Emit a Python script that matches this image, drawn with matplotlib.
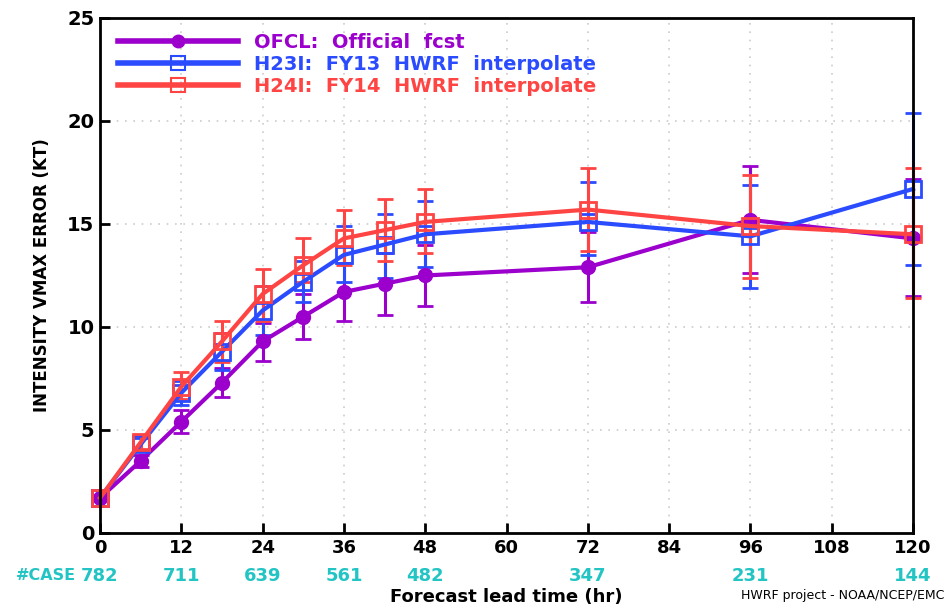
import matplotlib
matplotlib.use("Agg")
import matplotlib.pyplot as plt
import matplotlib.transforms as mtransforms
from matplotlib.lines import Line2D

# forecast lead times (hr)
lead = [0, 6, 12, 18, 24, 30, 36, 42, 48, 72, 96, 120]

# mean intensity errors (kt)
ofcl = [1.7, 3.5, 5.4, 7.3, 9.3, 10.5, 11.7, 12.1, 12.5, 12.9, 15.2, 14.3]
h23i = [1.7, 4.3, 6.8, 8.8, 10.8, 12.2, 13.5, 14.0, 14.5, 15.1, 14.4, 16.7]
h24i = [1.7, 4.4, 7.1, 9.3, 11.6, 13.0, 14.3, 14.7, 15.1, 15.7, 14.9, 14.5]

# confidence interval bounds
ofcl_lo = [1.7, 3.2, 4.85, 6.6, 8.35, 9.4, 10.3, 10.6, 11.0, 11.2, 12.6, 11.5]
ofcl_hi = [1.7, 3.8, 5.95, 8.0, 10.2, 11.6, 13.1, 13.6, 14.0, 14.6, 17.8, 17.2]
h23i_lo = [1.7, 4.0, 6.2, 7.9, 9.6, 11.2, 12.2, 12.4, 12.9, 13.5, 11.9, 13.0]
h23i_hi = [1.7, 4.6, 7.4, 9.7, 12.0, 13.2, 14.9, 15.5, 16.1, 17.05, 16.9, 20.4]
h24i_lo = [1.7, 4.1, 6.5, 8.3, 10.3, 12.2, 13.0, 13.2, 13.6, 13.7, 12.4, 11.4]
h24i_hi = [1.7, 4.7, 7.8, 10.3, 12.8, 14.3, 15.7, 16.2, 16.7, 17.7, 17.4, 17.7]

# number of cases
case_hr = [0, 12, 24, 36, 48, 72, 96, 120]
case_n = ["782", "711", "639", "561", "482", "347", "231", "144"]

c_ofcl = "#9b00cc"
c_h23 = "#2b4bff"
c_h24 = "#ff4444"
c_case = "#22c4c4"

plt.rcParams["font.family"] = "DejaVu Sans"
plt.rcParams["font.weight"] = "bold"

fig = plt.figure(figsize=(9.49, 6.08), dpi=100)
ax = fig.add_axes([0.1054, 0.1234, 0.8567, 0.847])

def draw(y, lo, hi, color, marker, mfc, ms):
    yerr = [[v - l for v, l in zip(y, lo)], [h - v for v, h in zip(y, hi)]]
    lines = ax.errorbar(lead, y, yerr=yerr, color=color, lw=3, marker=marker,
                        ms=ms, mfc=mfc, mec=color, mew=2, elinewidth=2.2,
                        capsize=6, capthick=2.2, zorder=3)
    for art in lines.get_children():
        art.set_clip_on(False)

draw(ofcl, ofcl_lo, ofcl_hi, c_ofcl, "o", c_ofcl, 9)
draw(h23i, h23i_lo, h23i_hi, c_h23, "s", "none", 11)
draw(h24i, h24i_lo, h24i_hi, c_h24, "s", "none", 11)

ax.set_xlim(0, 120)
ax.set_ylim(0, 25)
ax.set_xticks(range(0, 121, 12))
ax.set_yticks(range(0, 26, 5))
ax.tick_params(direction="in", length=7, width=2, labelsize=13, pad=4)
ax.tick_params(axis="y", labelsize=14)
for s in ax.spines.values():
    s.set_linewidth(2)
    s.set_zorder(5)
ax.grid(True, color="#cccccc", linestyle=(0, (1, 4)), lw=1.2)
ax.set_axisbelow(True)

ax.set_ylabel("INTENSITY VMAX ERROR (KT)", fontsize=12, weight="bold", labelpad=12)

# legend
handles = [
    Line2D([], [], color=c_ofcl, lw=4, marker="o", ms=9, mfc=c_ofcl, mec=c_ofcl),
    Line2D([], [], color=c_h23, lw=4, marker="s", ms=10, mfc="none", mec=c_h23, mew=1.5),
    Line2D([], [], color=c_h24, lw=4, marker="s", ms=10, mfc="none", mec=c_h24, mew=1.5),
]
labels = ["OFCL:  Official  fcst", "H23I:  FY13  HWRF  interpolate", "H24I:  FY14  HWRF  interpolate"]
leg = ax.legend(handles, labels, loc="upper left", bbox_to_anchor=(0.0, 1.005),
                frameon=False, fontsize=14, handlelength=6.2, handletextpad=0.8,
                labelspacing=0.15, numpoints=1)
for t, c in zip(leg.get_texts(), [c_ofcl, c_h23, c_h24]):
    t.set_color(c)

# case counts
trans = mtransforms.blended_transform_factory(ax.transData, ax.transAxes)
for h, n in zip(case_hr, case_n):
    ax.text(h, -0.083, n, transform=trans, ha="center", va="center",
            color=c_case, fontsize=13)
ax.text(-3.6, -0.083, "#CASE", transform=trans, ha="right", va="center",
        color=c_case, fontsize=11.5)

ax.text(0.5, -0.125, "Forecast lead time (hr)", transform=ax.transAxes,
        ha="center", va="center", fontsize=13)
fig.text(0.995, 0.01, "HWRF project - NOAA/NCEP/EMC", ha="right", va="bottom",
         fontsize=9, weight="normal")

fig.savefig("out.png", dpi=100)
